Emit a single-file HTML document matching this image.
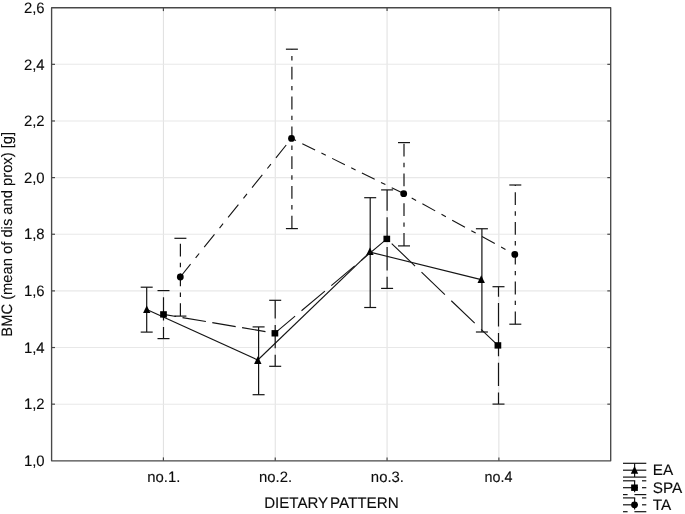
<!DOCTYPE html>
<html><head><meta charset="utf-8"><title>Chart</title><style>html,body{margin:0;padding:0;background:#fff;}body{width:685px;height:514px;overflow:hidden;}</style></head><body>
<svg width="685" height="514" viewBox="0 0 685 514" style="display:block;will-change:transform;text-rendering:geometricPrecision;transform:translateZ(0);font-family:'Liberation Sans',sans-serif;font-size:15.1px" fill="#0c0c0c" >
<rect x="0" y="0" width="685" height="514" fill="#fff"/>
<style>text{stroke:#0c0c0c;stroke-width:0.12px;}</style>
<line x1="163.42" y1="7.7" x2="163.42" y2="460.8" stroke="#e1e1e1" stroke-width="1.05"/>
<line x1="275.24" y1="7.7" x2="275.24" y2="460.8" stroke="#e1e1e1" stroke-width="1.05"/>
<line x1="387.06" y1="7.7" x2="387.06" y2="460.8" stroke="#e1e1e1" stroke-width="1.05"/>
<line x1="498.88" y1="7.7" x2="498.88" y2="460.8" stroke="#e1e1e1" stroke-width="1.05"/>
<line x1="51.6" y1="404.16" x2="610.7" y2="404.16" stroke="#e8e8e8" stroke-width="1.05"/>
<line x1="51.6" y1="347.53" x2="610.7" y2="347.53" stroke="#e8e8e8" stroke-width="1.05"/>
<line x1="51.6" y1="290.89" x2="610.7" y2="290.89" stroke="#e8e8e8" stroke-width="1.05"/>
<line x1="51.6" y1="234.25" x2="610.7" y2="234.25" stroke="#e8e8e8" stroke-width="1.05"/>
<line x1="51.6" y1="177.61" x2="610.7" y2="177.61" stroke="#e8e8e8" stroke-width="1.05"/>
<line x1="51.6" y1="120.97" x2="610.7" y2="120.97" stroke="#e8e8e8" stroke-width="1.05"/>
<line x1="51.6" y1="64.34" x2="610.7" y2="64.34" stroke="#e8e8e8" stroke-width="1.05"/>
<rect x="51.6" y="7.7" width="559.10" height="453.10" fill="none" stroke="#484848" stroke-width="1.35" stroke-linejoin="round"/>
<line x1="51.6" y1="404.16" x2="55.0" y2="404.16" stroke="#484848" stroke-width="1.2"/>
<line x1="610.7" y1="404.16" x2="607.3000000000001" y2="404.16" stroke="#484848" stroke-width="1.2"/>
<line x1="51.6" y1="347.53" x2="55.0" y2="347.53" stroke="#484848" stroke-width="1.2"/>
<line x1="610.7" y1="347.53" x2="607.3000000000001" y2="347.53" stroke="#484848" stroke-width="1.2"/>
<line x1="51.6" y1="290.89" x2="55.0" y2="290.89" stroke="#484848" stroke-width="1.2"/>
<line x1="610.7" y1="290.89" x2="607.3000000000001" y2="290.89" stroke="#484848" stroke-width="1.2"/>
<line x1="51.6" y1="234.25" x2="55.0" y2="234.25" stroke="#484848" stroke-width="1.2"/>
<line x1="610.7" y1="234.25" x2="607.3000000000001" y2="234.25" stroke="#484848" stroke-width="1.2"/>
<line x1="51.6" y1="177.61" x2="55.0" y2="177.61" stroke="#484848" stroke-width="1.2"/>
<line x1="610.7" y1="177.61" x2="607.3000000000001" y2="177.61" stroke="#484848" stroke-width="1.2"/>
<line x1="51.6" y1="120.97" x2="55.0" y2="120.97" stroke="#484848" stroke-width="1.2"/>
<line x1="610.7" y1="120.97" x2="607.3000000000001" y2="120.97" stroke="#484848" stroke-width="1.2"/>
<line x1="51.6" y1="64.34" x2="55.0" y2="64.34" stroke="#484848" stroke-width="1.2"/>
<line x1="610.7" y1="64.34" x2="607.3000000000001" y2="64.34" stroke="#484848" stroke-width="1.2"/>
<line x1="163.42" y1="7.7" x2="163.42" y2="11.1" stroke="#484848" stroke-width="1.2"/>
<line x1="163.42" y1="460.8" x2="163.42" y2="457.40000000000003" stroke="#484848" stroke-width="1.2"/>
<line x1="275.24" y1="7.7" x2="275.24" y2="11.1" stroke="#484848" stroke-width="1.2"/>
<line x1="275.24" y1="460.8" x2="275.24" y2="457.40000000000003" stroke="#484848" stroke-width="1.2"/>
<line x1="387.06" y1="7.7" x2="387.06" y2="11.1" stroke="#484848" stroke-width="1.2"/>
<line x1="387.06" y1="460.8" x2="387.06" y2="457.40000000000003" stroke="#484848" stroke-width="1.2"/>
<line x1="498.88" y1="7.7" x2="498.88" y2="11.1" stroke="#484848" stroke-width="1.2"/>
<line x1="498.88" y1="460.8" x2="498.88" y2="457.40000000000003" stroke="#484848" stroke-width="1.2"/>
<text x="23.9" y="466.00" textLength="20.7" lengthAdjust="spacingAndGlyphs">1,0</text>
<text x="23.9" y="409.36" textLength="20.7" lengthAdjust="spacingAndGlyphs">1,2</text>
<text x="23.9" y="352.73" textLength="20.7" lengthAdjust="spacingAndGlyphs">1,4</text>
<text x="23.9" y="296.09" textLength="20.7" lengthAdjust="spacingAndGlyphs">1,6</text>
<text x="23.9" y="239.45" textLength="20.7" lengthAdjust="spacingAndGlyphs">1,8</text>
<text x="23.9" y="182.81" textLength="20.7" lengthAdjust="spacingAndGlyphs">2,0</text>
<text x="23.9" y="126.17" textLength="20.7" lengthAdjust="spacingAndGlyphs">2,2</text>
<text x="23.9" y="69.54" textLength="20.7" lengthAdjust="spacingAndGlyphs">2,4</text>
<text x="23.9" y="12.90" textLength="20.7" lengthAdjust="spacingAndGlyphs">2,6</text>
<text x="147.22" y="481.9" textLength="33.15" lengthAdjust="spacingAndGlyphs">no.1.</text>
<text x="259.04" y="481.9" textLength="33.15" lengthAdjust="spacingAndGlyphs">no.2.</text>
<text x="370.86" y="481.9" textLength="33.15" lengthAdjust="spacingAndGlyphs">no.3.</text>
<text x="484.58" y="481.9" textLength="27.9" lengthAdjust="spacingAndGlyphs">no.4</text>
<text x="264.2" y="507.6" textLength="64.0" lengthAdjust="spacingAndGlyphs">DIETARY</text>
<text x="329.9" y="507.6" textLength="68.9" lengthAdjust="spacingAndGlyphs">PATTERN</text>
<text transform="translate(11.8,336.7) rotate(-90)" textLength="204.8" lengthAdjust="spacingAndGlyphs">BMC (mean of dis and prox) [g]</text>
<line x1="146.70" y1="332.10" x2="146.70" y2="287.20" stroke="#141414" stroke-width="1.2"/>
<line x1="140.7" y1="287.2" x2="152.7" y2="287.2" stroke="#141414" stroke-width="1.2"/>
<line x1="140.7" y1="332.1" x2="152.7" y2="332.1" stroke="#141414" stroke-width="1.2"/>
<line x1="258.60" y1="394.70" x2="258.60" y2="326.90" stroke="#141414" stroke-width="1.2"/>
<line x1="252.60000000000002" y1="326.9" x2="264.6" y2="326.9" stroke="#141414" stroke-width="1.2"/>
<line x1="252.60000000000002" y1="394.7" x2="264.6" y2="394.7" stroke="#141414" stroke-width="1.2"/>
<line x1="370.20" y1="307.50" x2="370.20" y2="197.70" stroke="#141414" stroke-width="1.2"/>
<line x1="364.2" y1="197.7" x2="376.2" y2="197.7" stroke="#141414" stroke-width="1.2"/>
<line x1="364.2" y1="307.5" x2="376.2" y2="307.5" stroke="#141414" stroke-width="1.2"/>
<line x1="481.90" y1="332.00" x2="481.90" y2="228.75" stroke="#141414" stroke-width="1.2"/>
<line x1="475.9" y1="228.75" x2="487.9" y2="228.75" stroke="#141414" stroke-width="1.2"/>
<line x1="475.9" y1="332.0" x2="487.9" y2="332.0" stroke="#141414" stroke-width="1.2"/>
<line x1="146.75" y1="309.60" x2="257.80" y2="360.00" stroke="#141414" stroke-width="1.1"/>
<line x1="257.80" y1="360.00" x2="369.95" y2="252.10" stroke="#141414" stroke-width="1.1"/>
<line x1="369.95" y1="252.10" x2="481.20" y2="279.60" stroke="#141414" stroke-width="1.1"/>
<path d="M143.05 313.10 L150.45 313.10 L146.75 305.50 Z" fill="#000"/>
<path d="M254.10 363.90 L261.50 363.90 L257.80 356.30 Z" fill="#000"/>
<path d="M366.25 255.10 L373.65 255.10 L369.95 247.50 Z" fill="#000"/>
<path d="M477.50 282.95 L484.90 282.95 L481.20 275.35 Z" fill="#000"/>
<line x1="163.50" y1="338.60" x2="163.50" y2="290.60" stroke="#141414" stroke-width="1.2" stroke-dasharray="23.40 6.40" stroke-dashoffset="11.80"/>
<line x1="157.5" y1="290.6" x2="169.5" y2="290.6" stroke="#141414" stroke-width="1.2"/>
<line x1="157.5" y1="338.6" x2="169.5" y2="338.6" stroke="#141414" stroke-width="1.2"/>
<line x1="275.20" y1="366.30" x2="275.20" y2="300.30" stroke="#141414" stroke-width="1.2" stroke-dasharray="23.40 6.40" stroke-dashoffset="11.80"/>
<line x1="269.2" y1="300.3" x2="281.2" y2="300.3" stroke="#141414" stroke-width="1.2"/>
<line x1="269.2" y1="366.3" x2="281.2" y2="366.3" stroke="#141414" stroke-width="1.2"/>
<line x1="387.10" y1="288.40" x2="387.10" y2="189.90" stroke="#141414" stroke-width="1.2" stroke-dasharray="23.40 6.40" stroke-dashoffset="11.80"/>
<line x1="381.1" y1="189.9" x2="393.1" y2="189.9" stroke="#141414" stroke-width="1.2"/>
<line x1="381.1" y1="288.4" x2="393.1" y2="288.4" stroke="#141414" stroke-width="1.2"/>
<line x1="498.50" y1="404.10" x2="498.50" y2="286.70" stroke="#141414" stroke-width="1.2" stroke-dasharray="23.40 6.40" stroke-dashoffset="11.80"/>
<line x1="492.5" y1="286.7" x2="504.5" y2="286.7" stroke="#141414" stroke-width="1.2"/>
<line x1="492.5" y1="404.1" x2="504.5" y2="404.1" stroke="#141414" stroke-width="1.2"/>
<line x1="163.50" y1="314.40" x2="274.90" y2="333.20" stroke="#141414" stroke-width="1.1" stroke-dasharray="23.73 6.49" stroke-dashoffset="10.95"/>
<line x1="274.90" y1="333.20" x2="386.80" y2="238.90" stroke="#141414" stroke-width="1.1" stroke-dasharray="30.60 8.37" stroke-dashoffset="4.18"/>
<line x1="386.80" y1="238.90" x2="497.90" y2="345.40" stroke="#141414" stroke-width="1.1" stroke-dasharray="32.41 8.87" stroke-dashoffset="34.49"/>
<rect x="160.15" y="311.20" width="6.7" height="6.4" fill="#000"/>
<rect x="271.55" y="330.10" width="6.7" height="6.4" fill="#000"/>
<rect x="383.45" y="235.70" width="6.7" height="6.4" fill="#000"/>
<rect x="494.55" y="342.20" width="6.7" height="6.4" fill="#000"/>
<line x1="180.40" y1="316.10" x2="180.40" y2="238.30" stroke="#141414" stroke-width="1.2" stroke-dasharray="12.80 6.30 4.40 6.30" stroke-dashoffset="0.00"/>
<line x1="174.4" y1="238.3" x2="186.4" y2="238.3" stroke="#141414" stroke-width="1.2"/>
<line x1="174.4" y1="316.1" x2="186.4" y2="316.1" stroke="#141414" stroke-width="1.2"/>
<line x1="291.90" y1="228.60" x2="291.90" y2="49.20" stroke="#141414" stroke-width="1.2" stroke-dasharray="12.80 6.30 4.40 6.30" stroke-dashoffset="0.00"/>
<line x1="285.9" y1="49.2" x2="297.9" y2="49.2" stroke="#141414" stroke-width="1.2"/>
<line x1="285.9" y1="228.6" x2="297.9" y2="228.6" stroke="#141414" stroke-width="1.2"/>
<line x1="404.00" y1="245.90" x2="404.00" y2="142.60" stroke="#141414" stroke-width="1.2" stroke-dasharray="12.80 6.30 4.40 6.30" stroke-dashoffset="0.00"/>
<line x1="398.0" y1="142.6" x2="410.0" y2="142.6" stroke="#141414" stroke-width="1.2"/>
<line x1="398.0" y1="245.9" x2="410.0" y2="245.9" stroke="#141414" stroke-width="1.2"/>
<line x1="515.30" y1="324.20" x2="515.30" y2="185.00" stroke="#141414" stroke-width="1.2" stroke-dasharray="12.80 6.30 4.40 6.30" stroke-dashoffset="0.00"/>
<line x1="509.29999999999995" y1="185.0" x2="521.3" y2="185.0" stroke="#141414" stroke-width="1.2"/>
<line x1="509.29999999999995" y1="324.2" x2="521.3" y2="324.2" stroke="#141414" stroke-width="1.2"/>
<line x1="180.30" y1="277.00" x2="291.50" y2="138.40" stroke="#141414" stroke-width="1.1" stroke-dasharray="16.41 8.08 5.64 8.08" stroke-dashoffset="0.00"/>
<line x1="291.50" y1="138.40" x2="403.70" y2="193.60" stroke="#141414" stroke-width="1.1" stroke-dasharray="14.27 7.02 4.90 7.02" stroke-dashoffset="21.17"/>
<line x1="403.70" y1="193.60" x2="514.80" y2="254.50" stroke="#141414" stroke-width="1.1" stroke-dasharray="14.60 7.18 5.02 7.18" stroke-dashoffset="12.66"/>
<circle cx="180.30" cy="277.00" r="3.4" fill="#000"/>
<circle cx="291.50" cy="138.40" r="3.4" fill="#000"/>
<circle cx="403.70" cy="193.70" r="3.4" fill="#000"/>
<circle cx="514.80" cy="254.45" r="3.4" fill="#000"/>
<line x1="623.00" y1="463.30" x2="646.30" y2="463.30" stroke="#141414" stroke-width="1.2"/>
<line x1="623.00" y1="470.20" x2="646.30" y2="470.20" stroke="#141414" stroke-width="1.2"/>
<line x1="623.00" y1="477.10" x2="646.30" y2="477.10" stroke="#141414" stroke-width="1.2"/>
<line x1="634.60" y1="463.30" x2="634.60" y2="477.10" stroke="#141414" stroke-width="1.2"/>
<path d="M630.80 473.70 L638.20 473.70 L634.50 466.10 Z" fill="#000"/>
<text x="652.7" y="475.40" style="font-size:15.3px">EA</text>
<line x1="623.00" y1="480.80" x2="635.20" y2="480.80" stroke="#141414" stroke-width="1.2"/>
<line x1="642.00" y1="480.80" x2="646.30" y2="480.80" stroke="#141414" stroke-width="1.2"/>
<line x1="623.00" y1="487.70" x2="638.00" y2="487.70" stroke="#141414" stroke-width="1.2"/>
<line x1="642.00" y1="487.70" x2="646.30" y2="487.70" stroke="#141414" stroke-width="1.2"/>
<line x1="623.00" y1="494.60" x2="627.60" y2="494.60" stroke="#141414" stroke-width="1.2"/>
<line x1="634.40" y1="494.60" x2="646.30" y2="494.60" stroke="#141414" stroke-width="1.2"/>
<line x1="634.60" y1="480.80" x2="634.60" y2="492.30" stroke="#141414" stroke-width="1.2"/>
<rect x="631.15" y="484.50" width="6.7" height="6.4" fill="#000"/>
<text x="652.7" y="492.90" style="font-size:15.3px">SPA</text>
<line x1="623.00" y1="497.90" x2="635.20" y2="497.90" stroke="#141414" stroke-width="1.2"/>
<line x1="642.00" y1="497.90" x2="646.30" y2="497.90" stroke="#141414" stroke-width="1.2"/>
<line x1="623.00" y1="504.80" x2="638.00" y2="504.80" stroke="#141414" stroke-width="1.2"/>
<line x1="642.00" y1="504.80" x2="646.30" y2="504.80" stroke="#141414" stroke-width="1.2"/>
<line x1="623.00" y1="511.70" x2="627.60" y2="511.70" stroke="#141414" stroke-width="1.2"/>
<line x1="634.40" y1="511.70" x2="646.30" y2="511.70" stroke="#141414" stroke-width="1.2"/>
<line x1="634.60" y1="497.90" x2="634.60" y2="509.40" stroke="#141414" stroke-width="1.2"/>
<circle cx="634.50" cy="504.80" r="3.4" fill="#000"/>
<text x="652.7" y="510.00" style="font-size:15.3px">TA</text>
</svg>
</body></html>
